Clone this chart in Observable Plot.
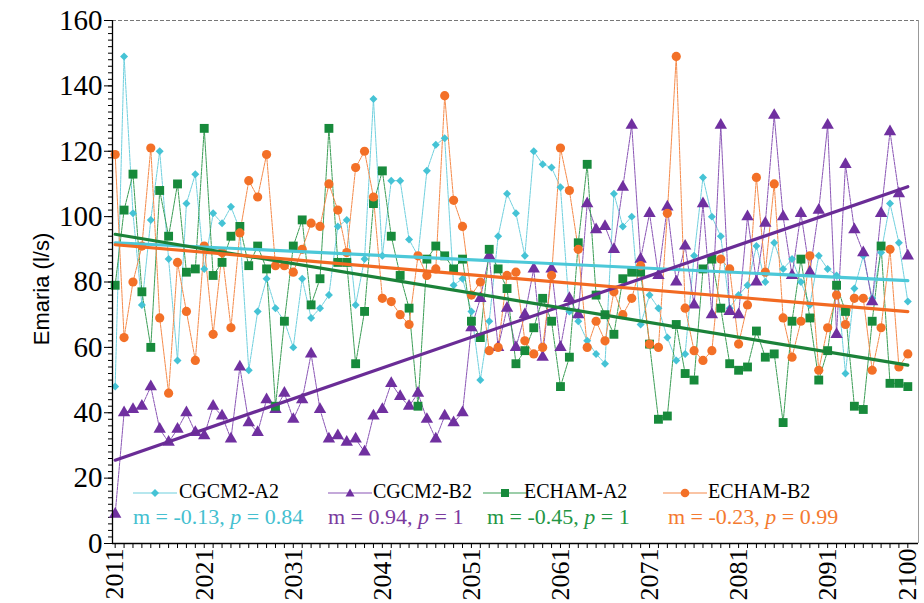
<!DOCTYPE html>
<html><head><meta charset="utf-8">
<script src="https://cdn.jsdelivr.net/npm/d3@7"></script>
<script src="https://cdn.jsdelivr.net/npm/@observablehq/plot@0.6"></script>
<style>
body{margin:0;background:#fff;}
#wrap{position:relative;width:924px;height:603px;overflow:hidden;}
.ov{position:absolute;white-space:nowrap;font-family:"Liberation Serif","Times New Roman",serif;font-size:22px;line-height:22px;}
.ov.name{font-size:20px;line-height:22px;}
.sym{position:absolute;}
#ylab{position:absolute;left:42px;top:289px;transform:translate(-50%,-50%) rotate(-90deg);font-family:"Liberation Sans",Arial,sans-serif;font-size:22px;white-space:nowrap;}
</style></head>
<body><div id="wrap"></div>
<script>
const years = d3.range(2011, 2101);
const seriesNames = ["CGCM2-A2", "CGCM2-B2", "ECHAM-A2", "ECHAM-B2"];
const cgcm2A2 = [48,149,101,73,99,120,87,56,104,113, 84,101,98,103,96,53,71,81,72,68, 60,81,69,72,76,97,99,73,87,136, 88,111,111,93,88,114,122,124,79,81, 71,50,68,94,107,101,88,120,116,115, 109,71,68,62,58,55,107,97,100,67, 76,72,63,56,58,88,112,100,94,72, 76,79,91,80,92,84,87,80,73,88, 84,82,52,78,88,75,89,104,92,74];
const cgcm2B2 = [9,40,41,42,48,35,31,35,40,34, 33,42,39,32,54,37,34,44,41,46, 38,44,58,41,32,33,31,32,28,39, 41,49,45,42,46,38,32,39,37,40, 66,75,88,60,72,60,70,84,57,84, 60,75,70,104,96,97,90,109,128,87, 101,82,103,80,91,73,104,70,128,71, 70,100,80,98,131,100,82,101,83,102, 128,64,116,96,89,74,101,126,107,88];
const echamA2 = [79,102,113,77,60,108,94,110,83,84, 127,82,86,94,97,85,91,84,42,68, 91,99,73,81,127,86,86,55,71,104, 114,94,82,72,42,87,91,88,84,87, 68,63,90,84,78,55,59,66,75,68, 48,57,92,116,76,70,64,81,83,83, 61,38,39,67,52,50,84,87,72,55, 53,54,65,57,58,37,68,87,69,50, 59,79,71,42,41,68,91,49,49,48];
const echamB2 = [119,63,80,91,121,69,46,86,71,56, 91,64,89,66,95,111,106,119,85,85, 83,90,98,97,110,102,89,115,120,106, 75,74,70,67,88,82,84,137,105,97, 76,80,59,60,82,83,62,58,60,82, 121,108,90,60,68,62,77,70,75,85, 61,60,101,149,72,59,56,59,87,84, 61,73,112,83,110,69,57,68,88,53, 66,76,67,75,75,53,66,90,54,58];
const trendStart = [92, 25.5, 94.6, 91.4];   // fitted value at 2011
const slopes = [-0.13, 0.94, -0.45, -0.23];
const pValues = ["0.84", "1", "1", "0.99"];
const yTickLabels = [0, 20, 40, 60, 80, 100, 120, 140, 160];
const xTickLabels = [2011, 2021, 2031, 2041, 2051, 2061, 2071, 2081, 2091, 2100];
const xDomain = [2010.7, 2101.2];

const allValues = [cgcm2A2, cgcm2B2, echamA2, echamB2];
const pointColors = ["#45c3d5", "#7030a0", "#178a3b", "#f37027"];
const lineColors = ["#6fd0de", "#8a55b5", "#3a9d55", "#f58a4a"];
const trendColors = ["#4cc8d8", "#6a2c96", "#1b8239", "#f26a22"];
const textColors = ["#45bfd0", "#7a3a9e", "#249645", "#f47a30"];
const symbols = ["diamond2", "triangle", "square", "circle"];
const radii = [3.6, 4.6, 5.0, 4.6];

const seriesData = allValues.map((vals, k) => years.map((yr, i) => ({year: yr, value: vals[i], series: seriesNames[k]})));
const trendData = seriesNames.map((s, k) => [2011, 2100].map(yr => ({year: yr, value: trendStart[k] + slopes[k] * (yr - 2011), series: s})));

const marks = [
  Plot.axisY({ticks: d3.range(0, 161, 2), tickSize: 4, tickFormat: () => "", label: null}),
  Plot.axisY({ticks: yTickLabels, tickSize: 8, tickPadding: 2, fontSize: 29, label: null}),
  Plot.axisX({ticks: years, tickSize: 5, tickFormat: () => "", label: null}),
  Plot.axisX({ticks: xTickLabels, tickSize: 0, tickPadding: 5, tickRotate: -90, fontSize: 26, tickFormat: d => String(d), label: null}),
  Plot.ruleY([160], {stroke: "#777", strokeDasharray: "4,2"}),
  Plot.ruleX([xDomain[1]], {stroke: "#999"})
];
seriesData.forEach((d, k) => {
  marks.push(Plot.line(d, {x: "year", y: "value", stroke: lineColors[k], strokeWidth: 1, strokeDasharray: "3,1"}));
});
seriesData.forEach((d, k) => {
  marks.push(Plot.dot(d, {x: "year", y: "value", symbol: symbols[k], fill: pointColors[k], r: radii[k], stroke: "none"}));
});
trendData.forEach((d, k) => {
  marks.push(Plot.line(d, {x: "year", y: "value", stroke: trendColors[k], strokeWidth: 3.2}));
});
marks.push(Plot.ruleX([xDomain[0]], {stroke: "#000", strokeWidth: 1.3}));
marks.push(Plot.ruleY([0], {stroke: "#000", strokeWidth: 1.3}));

const chart = Plot.plot({
  width: 924, height: 603,
  marginLeft: 112, marginRight: 6, marginTop: 20, marginBottom: 60,
  x: {domain: xDomain},
  y: {domain: [0, 160]},
  style: {fontFamily: "'Liberation Serif', 'Times New Roman', serif", color: "#000", background: "#fff", overflow: "visible"},
  marks
});
const wrap = document.getElementById("wrap");
wrap.appendChild(chart);

// y label
const yl = document.createElement("div");
yl.id = "ylab"; yl.textContent = "Emaria (l/s)";
wrap.appendChild(yl);

// legend
const symLeft = [133, 328, 483, 663];
const textLeft = [179, 373, 524, 708];
const statLeft = [133, 328, 487, 668];
function symbolSvg(k) {
  const c = pointColors[k], lc = lineColors[k];
  let m;
  if (k === 0) m = `<path d="M22,2 L26,6 L22,10 L18,6 Z" fill="${c}"/>`;
  else if (k === 1) m = `<path d="M22,1.5 L26.5,9.5 L17.5,9.5 Z" fill="${c}"/>`;
  else if (k === 2) m = `<rect x="18" y="2" width="8" height="8" fill="${c}"/>`;
  else m = `<circle cx="22" cy="6" r="4.3" fill="${c}"/>`;
  return `<svg width="44" height="12"><line x1="0" y1="6" x2="44" y2="6" stroke="${lc}" stroke-width="1.2"/>${m}</svg>`;
}
seriesNames.forEach((s, k) => {
  const sy = document.createElement("div");
  sy.className = "sym"; sy.style.left = symLeft[k] + "px"; sy.style.top = "485px";
  sy.innerHTML = symbolSvg(k);
  wrap.appendChild(sy);
  const t = document.createElement("div");
  t.className = "ov name"; t.style.left = textLeft[k] + "px"; t.style.top = "480px";
  t.textContent = s;
  wrap.appendChild(t);
  const st = document.createElement("div");
  st.className = "ov"; st.style.left = statLeft[k] + "px"; st.style.top = "506px";
  st.style.color = textColors[k];
  const m = slopes[k].toFixed(2);
  st.innerHTML = `m = ${m}, <i>p</i> = ${pValues[k]}`;
  wrap.appendChild(st);
});
</script>
</body></html>
